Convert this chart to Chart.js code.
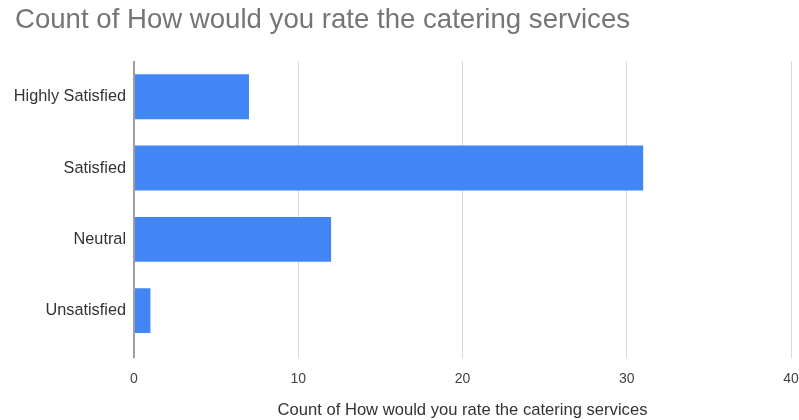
<!DOCTYPE html>
<html lang="en">
  <head>
    <meta charset="UTF-8" />
    <title>Catering Services Rating</title>
    <script src="https://cdn.jsdelivr.net/npm/chart.js"></script>
    <style>
      html, body { margin: 0; padding: 0; background: #fff; }
      #wrap { width: 799px; height: 420px; position: relative; }
    </style>
  </head>
  <body>
    <div id="wrap">
      <canvas id="ratingChart"></canvas>
    </div>

    <script>
      // Survey answers and how many people picked each one
      const ratings = ["Highly Satisfied", "Satisfied", "Neutral", "Unsatisfied"];
      const counts = [7, 31, 12, 1];
      const xTicks = [0, 10, 20, 30, 40];

      const titleText = "Count of How would you rate the catering services";
      const fontFamily = "Arial, 'Liberation Sans', sans-serif";

      const ctx = document.getElementById("ratingChart").getContext("2d");

      new Chart(ctx, {
        type: "bar",
        data: {
          labels: ratings,
          datasets: [
            {
              label: titleText,
              data: counts,
              backgroundColor: "#4285f4",
              borderWidth: 0,
              categoryPercentage: 0.63,
              barPercentage: 1,
            },
          ],
        },
        options: {
          indexAxis: "y",
          responsive: true,
          maintainAspectRatio: false,
          animation: false,
          layout: { padding: { left: 15, right: 0, top: 0, bottom: 0 } },
          scales: {
            x: {
              min: xTicks[0],
              max: xTicks[xTicks.length - 1],
              afterBuildTicks: (scale) => {
                scale.ticks = xTicks.map((v) => ({ value: v }));
              },
              // let the "40" label run to the canvas edge
              afterFit: (scale) => {
                scale.paddingLeft = 0;
                scale.paddingRight = 8;
              },
              border: { display: false },
              grid: {
                color: (c) => (c.tick && c.tick.value === 0 ? "#9e9e9e" : "#d9d9d9"),
                lineWidth: (c) => (c.tick && c.tick.value === 0 ? 2 : 1),
                tickLength: 12,
              },
              ticks: {
                padding: 12,
                color: "#444",
                font: { family: fontFamily, size: 14 },
              },
              title: {
                display: true,
                text: titleText,
                color: "#333",
                font: { family: fontFamily, size: 16.6 },
                padding: { top: 1, bottom: 0 },
              },
            },
            y: {
              afterFit: (scale) => {
                scale.width = 119;
              },
              border: { display: false },
              grid: { display: false, drawTicks: false },
              ticks: {
                padding: 8,
                color: "#333",
                font: { family: fontFamily, size: 16.3 },
              },
            },
          },
          plugins: {
            legend: { display: false },
            tooltip: { enabled: false },
            title: {
              display: true,
              text: titleText,
              align: "start",
              color: "#757575",
              font: { family: fontFamily, size: 27.6, weight: "normal" },
              padding: { top: 4, bottom: 24 },
            },
          },
        },
      });
    </script>
  </body>
</html>
